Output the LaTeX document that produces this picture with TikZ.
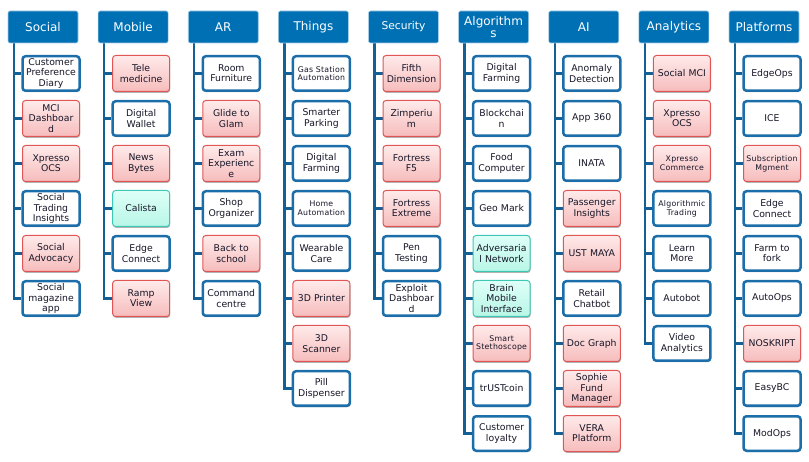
\documentclass[tikz,border=0pt]{standalone}
\usepackage{fontspec}
\setmainfont{DejaVu Sans}
\usetikzlibrary{shadows,backgrounds}
\definecolor{hdr}{RGB}{0,112,180}
\definecolor{spine}{RGB}{20,95,150}
\definecolor{bblue}{RGB}{28,110,170}
\definecolor{txt}{RGB}{22,22,40}
\definecolor{pborder}{RGB}{225,85,85}
\definecolor{ptop}{RGB}{255,234,234}
\definecolor{pbot}{RGB}{246,188,188}
\definecolor{tborder}{RGB}{60,200,180}
\definecolor{ttop}{RGB}{222,255,248}
\definecolor{tbot}{RGB}{184,246,230}
\tikzset{
  hd/.style={draw=hdr!35!white, line width=0.6pt, fill=hdr, text=white, rounded corners=2pt,
    minimum width=70pt, minimum height=32pt, inner sep=1pt, align=center, text width=66pt,
    font=\fontsize{12}{12.7}\selectfont},
  bx/.style={rounded corners=3pt, minimum height=37pt, inner sep=1pt, align=center,
    text width=55pt, font=\fontsize{9.3}{10.3}\selectfont, text=txt,
    drop shadow={shadow xshift=0.6pt, shadow yshift=-1.4pt, opacity=0.3, fill=black}},
  wb/.style={bx, draw=bblue, line width=2.5pt, fill=white, minimum width=55.5pt, minimum height=34.5pt},
  pb/.style={bx, draw=pborder, line width=1pt, top color=ptop, bottom color=pbot, minimum width=57pt, minimum height=36pt},
  tb/.style={bx, draw=tborder, line width=1pt, top color=ttop, bottom color=tbot, minimum width=57pt, minimum height=36pt},
  smallfont/.style={font=\fontsize{7.8}{8.8}\selectfont\addfontfeature{LetterSpace=3}},
  wbs/.style={wb, smallfont},
  pbs/.style={pb, smallfont},
  sp/.style={draw=spine, line width=2.4pt},
}
\newcommand\mycolumn[4]{%
  \node[hd] (#1) at (#2+35,27) {#3};
  \coordinate (#1s) at (#2+6,43);
  \foreach \st/\tx [count=\j] in {#4} {
    \node[\st] (#1-\j) at (#2+43, 28.5+45*\j) {\tx};
    \begin{scope}[on background layer]
      \draw[sp] (#1s) |- (#1-\j.west);
    \end{scope}
  }%
}
\begin{document}
\begin{tikzpicture}[x=1pt,y=-1pt]
\useasboundingbox (0,0) rectangle (809,462);
\mycolumn{social}{8}{Social}{wb/{Customer\\Preference\\Diary}, pb/{MCI\\Dashboar\\d}, pb/{Xpresso\\OCS}, wb/{Social\\Trading\\Insights}, pb/{Social\\Advocacy}, wb/{Social\\magazine\\app}}
\mycolumn{mobile}{98.1}{Mobile}{pb/{Tele\\medicine}, wb/{Digital\\Wallet}, pb/{News\\Bytes}, tb/{Calista}, wb/{Edge\\Connect}, pb/{Ramp\\View}}
\mycolumn{ar}{188.25}{AR}{wb/{Room\\Furniture}, pb/{Glide to\\Glam}, pb/{Exam\\Experienc\\e}, wb/{Shop\\Organizer}, pb/{Back to\\school}, wb/{Command\\centre}}
\mycolumn{things}{278.4}{Things}{wbs/{Gas Station\\Automation}, wb/{Smarter\\Parking}, wb/{Digital\\Farming}, wbs/{Home\\Automation}, wb/{Wearable\\Care}, pb/{3D Printer}, pb/{3D\\Scanner}, wb/{Pill\\Dispenser}}
\mycolumn{security}{368.5}{\fontsize{10.7}{12}\selectfont Security}{pb/{Fifth\\Dimension}, pb/{Zimperiu\\m}, pb/{Fortress\\F5}, pb/{Fortress\\Extreme}, wb/{Pen\\Testing}, wb/{Exploit\\Dashboar\\d}}
\mycolumn{algo}{458.6}{Algorithm\\s}{wb/{Digital\\Farming}, wb/{Blockchai\\n}, wb/{Food\\Computer}, wb/{Geo Mark}, tb/{Adversaria\\l Network}, tb/{Brain\\Mobile\\Interface}, pbs/{Smart\\Stethoscope}, wb/{trUSTcoin}, wb/{Customer\\loyalty}}
\mycolumn{ai}{548.75}{AI}{wb/{Anomaly\\Detection}, wb/{App 360}, wb/{INATA}, pb/{Passenger\\Insights}, pb/{UST MAYA}, wb/{Retail\\Chatbot}, pb/{Doc Graph}, pb/{Sophie\\Fund\\Manager}, pb/{VERA\\Platform}}
\mycolumn{analytics}{638.9}{Analytics}{pb/{Social MCI}, pb/{Xpresso\\OCS}, pbs/{Xpresso\\Commerce}, wbs/{Algorithmic\\Trading}, wb/{Learn\\More}, wb/{Autobot}, wb/{Video\\Analytics}}
\mycolumn{platforms}{729}{Platforms}{wb/{EdgeOps}, wb/{ICE}, pbs/{Subscription\\Mgment}, wb/{Edge\\Connect}, wb/{Farm to\\fork}, wb/{AutoOps}, pb/{NOSKRIPT}, wb/{EasyBC}, wb/{ModOps}}
\end{tikzpicture}
\end{document}
